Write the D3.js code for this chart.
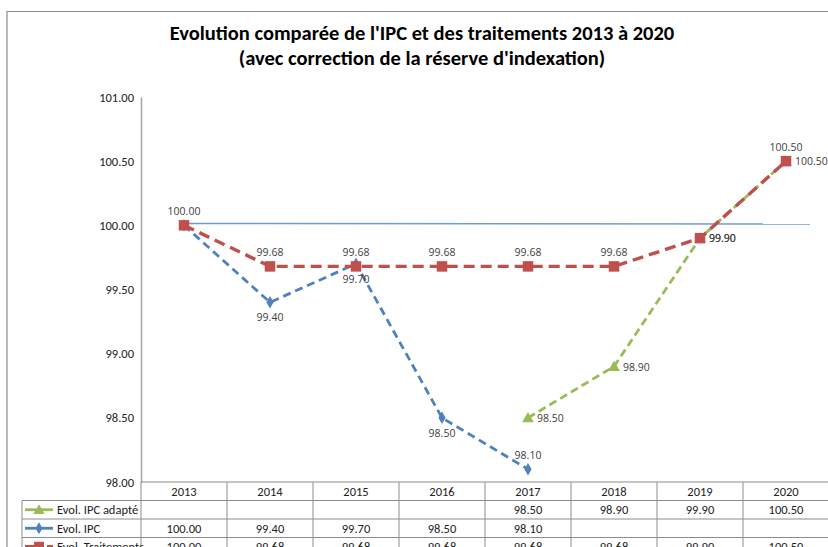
<!DOCTYPE html>
<html>
<head>
<meta charset="utf-8">
<script src="https://cdn.jsdelivr.net/npm/d3@7"></script>
<style>
  html, body { margin: 0; padding: 0; background: #fff; }
  svg { display: block; }
</style>
</head>
<body>
<svg id="chart" width="828" height="547"></svg>
<script>
// ---- données ----
const years = ['2013', '2014', '2015', '2016', '2017', '2018', '2019', '2020'];
const ipcAdapte = [null, null, null, null, 98.50, 98.90, 99.90, 100.50];
const ipc = [100.00, 99.40, 99.70, 98.50, 98.10, null, null, null];
const traitements = [100.00, 99.68, 99.68, 99.68, 99.68, 99.68, 99.90, 100.50];
const yTicks = [98.00, 98.50, 99.00, 99.50, 100.00, 100.50, 101.00];
const baseline = 100.01;

// position des étiquettes (style, pas des données)
const posAdapte = [null, null, null, null, 'right', 'right', 'right', 'above'];
const posIpc = [null, 'below', 'below', 'below', 'above', null, null, null];
const posTrait = ['above', 'above', 'above', 'above', 'above', 'above', 'right', 'right'];

const series = [
  { name: 'Evol. IPC adapté', values: ipcAdapte, pos: posAdapte, color: '#9bbb59', marker: 'triangle', width: 2.8, dash: '8,4.5' },
  { name: 'Evol. IPC', values: ipc, pos: posIpc, color: '#4f81bd', marker: 'diamond', width: 2.8, dash: '8,5' },
  { name: 'Evol. Traitements', values: traitements, pos: posTrait, color: '#c0504d', marker: 'square', width: 3.4, dash: '11,6' }
];

const svg = d3.select('#chart');
const plot = { left: 141, right: 829, top: 97, bottom: 482 };
const rowH = 18.5;
const labelLeft = 22;
const font = "Carlito, 'Liberation Sans', Arial, sans-serif";
const labelFont = "'Open Sans', 'Liberation Sans', Arial, sans-serif";

const x = d3.scaleBand().domain(years).range([plot.left, plot.right]);
const y = d3.scaleLinear().domain([98, 101]).range([plot.bottom, plot.top]);
const cx = d => x(d) + x.bandwidth() / 2;

// cadre extérieur
svg.append('path')
  .attr('d', `M7,547 V11.5 H828`)
  .attr('fill', 'none').attr('stroke', '#8c8c8c').attr('stroke-width', 1.2);

// titre
const title = svg.append('g').attr('font-family', font)
  .attr('font-weight', 'bold').attr('font-size', 20.5).attr('fill', '#000').attr('text-anchor', 'middle');
title.append('text').attr('x', 422).attr('y', 40).text("Evolution comparée de l'IPC et des traitements 2013 à 2020");
title.append('text').attr('x', 422).attr('y', 65).text("(avec correction de la réserve d'indexation)");

// axe Y
const yAxis = d3.axisLeft(y).tickValues(yTicks).tickFormat(d3.format('.2f')).tickSize(0).tickPadding(7);
const gy = svg.append('g').attr('transform', `translate(${plot.left},0)`).call(yAxis);
gy.select('.domain').attr('stroke', '#a6a6a6').attr('stroke-width', 1.5);
gy.selectAll('text').attr('font-family', font).attr('font-size', 12.5).attr('fill', '#222');

// ligne de référence
svg.append('line')
  .attr('x1', cx('2013')).attr('x2', cx('2020') + 24)
  .attr('y1', y(baseline) - 0.5).attr('y2', y(baseline))
  .attr('stroke', '#6f9bd3').attr('stroke-width', 1.5);

// séries
const symbolFor = { triangle: d3.symbolTriangle, diamond: d3.symbolDiamond, square: d3.symbolSquare };
const sizeFor = { triangle: 60, diamond: 45, square: 110 };

function drawMarker(g, s, px, py, scale = 1) {
  g.append('path')
    .attr('d', d3.symbol().type(symbolFor[s.marker]).size(sizeFor[s.marker] * scale)())
    .attr('transform', `translate(${px},${py + (s.marker === 'triangle' ? 1 : 0)})`)
    .attr('fill', s.color);
}

const line = d3.line()
  .defined(d => d.v != null)
  .x(d => cx(d.year)).y(d => y(d.v));

series.forEach(s => {
  const pts = years.map((year, i) => ({ year, v: s.values[i], pos: s.pos[i] }));
  const g = svg.append('g');
  g.append('path').datum(pts).attr('d', line)
    .attr('fill', 'none').attr('stroke', s.color)
    .attr('stroke-width', s.width).attr('stroke-dasharray', s.dash);
  pts.filter(d => d.v != null).forEach(d => drawMarker(g, s, cx(d.year), y(d.v)));
});

// étiquettes
series.forEach(s => {
  years.forEach((year, i) => {
    const v = s.values[i], pos = s.pos[i];
    if (v == null || pos == null) return;
    let lx = cx(year), ly = y(v), anchor = 'middle';
    if (pos === 'above') ly -= 10;
    if (pos === 'below') ly += 19;
    if (pos === 'right') { lx += 9; ly += 4; anchor = 'start'; }
    svg.append('text').attr('x', lx).attr('y', ly).attr('text-anchor', anchor)
      .attr('font-family', labelFont).attr('font-size', 10.5)
      .attr('fill', '#404040').text(d3.format('.2f')(v));
  });
});

// tableau de données
const tbl = svg.append('g').attr('font-family', font).attr('font-size', 12.5).attr('fill', '#222');
const grid = '#8c8c8c';
const nRows = series.length;
const tableBottom = plot.bottom + rowH * (nRows + 1);

// lignes horizontales
tbl.append('line').attr('x1', plot.left).attr('x2', plot.right).attr('y1', plot.bottom).attr('y2', plot.bottom)
  .attr('stroke', grid);
d3.range(1, nRows + 2).forEach(r => {
  tbl.append('line').attr('x1', labelLeft).attr('x2', plot.right)
    .attr('y1', plot.bottom + r * rowH).attr('y2', plot.bottom + r * rowH).attr('stroke', grid);
});
// lignes verticales
tbl.append('line').attr('x1', labelLeft).attr('x2', labelLeft)
  .attr('y1', plot.bottom + rowH).attr('y2', tableBottom).attr('stroke', grid);
years.forEach(year => {
  tbl.append('line').attr('x1', x(year)).attr('x2', x(year))
    .attr('y1', plot.bottom).attr('y2', tableBottom).attr('stroke', grid);
});

// en-tête
years.forEach(year => {
  tbl.append('text').attr('x', cx(year)).attr('y', plot.bottom + 13.5)
    .attr('text-anchor', 'middle').text(year);
});

series.forEach((s, r) => {
  const rowTop = plot.bottom + rowH * (r + 1);
  const rowMid = rowTop + rowH / 2;
  // légende
  tbl.append('line').attr('x1', 25).attr('x2', 53).attr('y1', rowMid).attr('y2', rowMid)
    .attr('stroke', s.color).attr('stroke-width', s.width)
    .attr('stroke-dasharray', s.marker === 'square' ? '18,4' : null);
  drawMarker(tbl, s, 39, rowMid, 0.9);
  tbl.append('text').attr('x', 57).attr('y', rowTop + 13.5).text(s.name);
  // valeurs
  s.values.forEach((v, i) => {
    if (v == null) return;
    tbl.append('text').attr('x', cx(years[i])).attr('y', rowTop + 13.5)
      .attr('text-anchor', 'middle').text(d3.format('.2f')(v));
  });
});
</script>
</body>
</html>
